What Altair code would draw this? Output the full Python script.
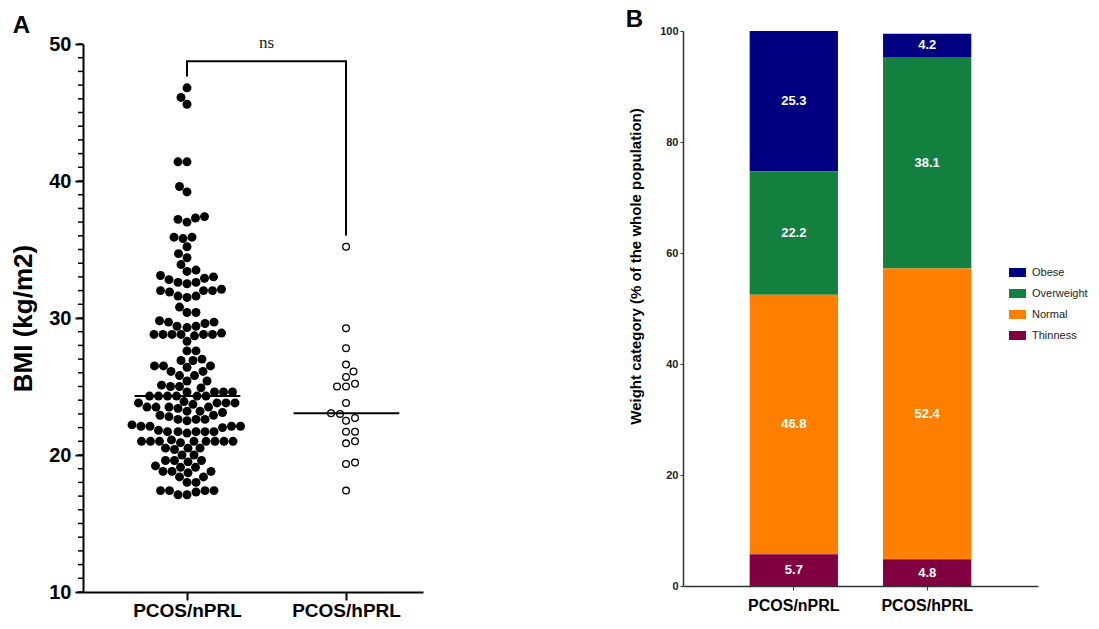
import altair as alt
import pandas as pd
import numpy as np

# ---------------- data ----------------
groups = ["PCOS/nPRL", "PCOS/hPRL"]

bmi_nprl = [
    46.8, 46.1, 45.6,
    41.4, 41.4, 39.6, 39.2,
    37.4, 37.3, 37.2, 37.0,
    35.9, 35.9, 35.8, 35.2, 34.7, 34.4, 33.9,
    33.5, 33.4, 33.1, 33.0, 32.9, 32.8,
    32.6, 32.6, 32.5,
    32.0, 32.0, 31.9, 32.0, 32.1,
    31.6, 31.6, 31.5,
    30.8, 30.4, 30.4,
    29.7, 29.7, 29.8, 29.6,
    29.4, 29.3, 29.4,
    28.8, 28.8, 28.8, 28.9, 28.8, 28.7, 28.8, 28.8,
    28.3, 27.6, 27.6,
    26.9, 27.0, 26.9,
    26.5, 26.5, 26.4, 26.5,
    26.1, 26.1, 25.8, 25.8, 25.4, 25.4,
    25.0, 25.0, 25.1, 24.9,
    24.6, 24.6, 24.6, 24.6,
    24.3, 24.3, 24.3, 24.3, 24.3, 24.3,
    23.8, 23.8, 23.9, 23.8, 23.7, 23.8,
    23.5, 23.5, 23.4, 23.5, 23.5,
    23.2, 23.2, 23.1,
    22.9, 22.9, 22.8,
    22.6, 22.6, 22.5, 22.6,
    22.1, 22.1, 22.2, 22.1, 22.0, 22.1,
    21.7, 21.7, 21.6, 21.7, 21.8, 21.7, 21.7,
    21.0, 21.0, 21.0, 21.1, 21.0, 20.9, 21.0, 21.0, 21.0, 21.0,
    20.5, 20.5, 20.4, 20.5,
    20.0, 20.0,
    19.6, 19.6, 19.5, 19.6,
    19.1, 19.1, 19.2,
    18.8, 18.8, 18.7, 18.8,
    18.4, 18.4,
    18.0, 18.0,
    17.4, 17.4, 17.3, 17.4, 17.4,
    17.1, 17.1,
]

bmi_hprl = [35.2, 29.25, 27.8, 26.6, 26.1, 25.7, 25.0, 25.0, 25.2, 23.8, 23.0,
            23.05, 22.7, 22.5, 21.7, 21.7, 21.0, 20.85, 19.45, 19.35, 17.4]

bmi_major_ticks = [10, 20, 30, 40, 50]
bmi_minor_ticks = list(range(10, 51))

bracket_x = [1, 1, 2, 2]
bracket_y = [47.7, 48.75, 48.75, 36.1]
ns_label = ["ns"]
ns_x = [1.5]
ns_y = [50.1]

categories = ["Obese", "Overweight", "Normal", "Thinness"]
cat_colors = ["#000080", "#138040", "#FF8000", "#800040"]
stack_rank = [3, 2, 1, 0]
pct_nprl = [25.3, 22.2, 46.8, 5.7]
pct_hprl = [4.2, 38.1, 52.4, 4.8]
pct_ticks = [0, 20, 40, 60, 80, 100]

# ---------------- layout constants ----------------
LEFT_W, LEFT_H = 340, 561
X_DOM = [0.346, 2.484]
Y_DOM = [10, 50]
Y_RANGE = [561, 13]
XPPU = LEFT_W / (X_DOM[1] - X_DOM[0])
YPPU = (Y_RANGE[0] - Y_RANGE[1]) / (Y_DOM[1] - Y_DOM[0])
MINOR_TICK_PX = 5


def swarm(values, diam, ypx):
    """Deterministic beeswarm: horizontal pixel offsets avoiding overlap."""
    vals = np.asarray(values, float)
    order = np.argsort(vals, kind="stable")
    placed = []
    offs = np.zeros(len(vals))
    for n, i in enumerate(order):
        y = vals[i] * ypx
        k = 0
        chosen = None
        while chosen is None:
            if k == 0:
                cands = [0.0]
            else:
                cands = [-k * 0.5, k * 0.5] if n % 2 else [k * 0.5, -k * 0.5]
            for c in cands:
                if all((c - px) ** 2 + (y - py) ** 2 >= diam ** 2 for px, py in placed):
                    chosen = c
                    break
            k += 1
        offs[i] = chosen
        placed.append((chosen, y))
    return offs


off_n = swarm(bmi_nprl, 9.0, YPPU)
off_h = swarm(bmi_hprl, 9.0, YPPU)

pts = pd.DataFrame({
    "group": [groups[0]] * len(bmi_nprl) + [groups[1]] * len(bmi_hprl),
    "gnum": [1] * len(bmi_nprl) + [2] * len(bmi_hprl),
    "bmi": bmi_nprl + bmi_hprl,
    "x": list(1 + off_n / XPPU) + list(2 + off_h / XPPU),
})

bracket_df = pd.DataFrame({"bx": bracket_x, "by": bracket_y, "o": list(range(len(bracket_x)))})
ns_df = pd.DataFrame({"t": ns_label, "x": ns_x, "y": ns_y})
minor_df = pd.DataFrame({"v": bmi_minor_ticks})

FONT = "Liberation Sans"

xscale = alt.Scale(domain=X_DOM, nice=False, zero=False)
yscale = alt.Scale(domain=Y_DOM, range=Y_RANGE, nice=False, zero=False)

x_axis = alt.Axis(values=[1, 2], labelExpr="datum.value == 1 ? 'PCOS/nPRL' : 'PCOS/hPRL'",
                  title=None, grid=False, tickSize=8, tickWidth=2, tickColor="black",
                  domainWidth=2, domainColor="black", labelFontSize=19, labelFontWeight="bold",
                  labelColor="black", labelPadding=1, labelFont=FONT)
y_axis = alt.Axis(values=bmi_major_ticks, orient="left", title="BMI (kg/m2)",
                  titleFontSize=26, titleFontWeight="bold", titleColor="black", titleFont=FONT,
                  titlePadding=12, grid=False, tickSize=8, tickWidth=2, tickColor="black",
                  domainWidth=2, domainColor="black", labelFontSize=20, labelFontWeight="bold",
                  labelColor="black", labelPadding=4, labelFont=FONT)

base = alt.Chart(pts)
filled = base.transform_filter("datum.gnum == 1").mark_circle(
    size=80, color="black", opacity=1
).encode(
    x=alt.X("x:Q", scale=xscale, axis=x_axis),
    y=alt.Y("bmi:Q", scale=yscale, axis=y_axis),
)
hollow = base.transform_filter("datum.gnum == 2").mark_point(
    filled=False, size=45, strokeWidth=1.3, color="black", opacity=1
).encode(
    x=alt.X("x:Q", scale=xscale),
    y=alt.Y("bmi:Q", scale=yscale),
)
medians = base.transform_aggregate(
    med="median(bmi)", groupby=["gnum"]
).transform_calculate(
    x1="datum.gnum - 0.33", x2="datum.gnum + 0.335"
).mark_rule(color="black", strokeWidth=2).encode(
    x=alt.X("x1:Q", scale=xscale), x2="x2:Q", y=alt.Y("med:Q", scale=yscale)
)
bracket = alt.Chart(bracket_df).mark_line(color="black", strokeWidth=2, strokeCap="square").encode(
    x=alt.X("bx:Q", scale=xscale), y=alt.Y("by:Q", scale=yscale), order="o:Q"
)
ns = alt.Chart(ns_df).mark_text(font="Liberation Serif", fontSize=17, color="#222").encode(
    x=alt.X("x:Q", scale=xscale), y=alt.Y("y:Q", scale=yscale), text="t:N"
)
# minor axis ticks (every 1 BMI unit), drawn just left of the y axis line
minor = alt.Chart(minor_df).transform_calculate(
    xa=f"{X_DOM[0]} - {MINOR_TICK_PX / XPPU}", xb=f"{X_DOM[0]}"
).mark_rule(color="black", strokeWidth=1.5).encode(
    x=alt.X("xa:Q", scale=xscale), x2="xb:Q", y=alt.Y("v:Q", scale=yscale)
)

left = alt.layer(filled, hollow, medians, bracket, ns, minor).properties(
    width=LEFT_W, height=LEFT_H,
    title=alt.TitleParams("A", anchor="start", frame="bounds", fontSize=24, fontWeight="bold",
                          font=FONT, color="black", dx=2, offset=-7),
)

# ---------------- right panel ----------------
bars_df = pd.DataFrame({
    "group": [groups[0]] * 4 + [groups[1]] * 4,
    "category": categories * 2,
    "rank": stack_rank * 2,
    "pct": pct_nprl + pct_hprl,
})

bx = alt.X("group:N", sort=groups, title=None,
           scale=alt.Scale(paddingInner=0.338, paddingOuter=0.5),
           axis=alt.Axis(labelAngle=0, labelFontSize=16, labelFontWeight="bold", labelColor="black",
                         labelFont=FONT, tickSize=4, tickColor="#333", domainColor="#333",
                         domainWidth=1.5, labelPadding=7))
by_scale = alt.Scale(domain=[0, 100], nice=False)

bars = alt.Chart(bars_df).mark_bar().encode(
    x=bx,
    y=alt.Y("pct:Q", stack="zero", scale=by_scale,
            axis=alt.Axis(values=pct_ticks, grid=False, tickSize=3,
                          tickColor="#333", domainColor="#333", domainWidth=1.5,
                          labelFontSize=11, labelFontWeight="bold", labelColor="#222",
                          labelPadding=2, labelFont=FONT,
                          title="Weight category (% of the whole population)",
                          titleFontSize=15, titleFontWeight="bold", titleColor="black",
                          titleFont=FONT, titlePadding=16, titleY=235)),
    color=alt.Color("category:N", scale=alt.Scale(domain=categories, range=cat_colors),
                    legend=alt.Legend(orient="none", legendX=926, legendY=233, title=None,
                                      symbolType="M-1,-0.53H1V0.53H-1Z", symbolSize=289,
                                      symbolStrokeWidth=0, labelFontSize=11, labelFont=FONT,
                                      labelColor="#222", labelOffset=6, rowPadding=7)),
    order=alt.Order("rank:Q", sort="ascending"),
)

labels = alt.Chart(bars_df).transform_stack(
    stack="pct", as_=["y0", "y1"], groupby=["group"], sort=[alt.SortField("rank", order="ascending")]
).transform_calculate(
    mid="(datum.y0 + datum.y1) / 2", lab="format(datum.pct, '.1f')"
).mark_text(color="white", fontWeight="bold", fontSize=13, font=FONT).encode(
    x=alt.X("group:N", sort=groups),
    y=alt.Y("mid:Q", scale=by_scale),
    text="lab:N",
)

right = alt.layer(bars, labels).properties(
    width=355, height=555,
    title=alt.TitleParams("B", anchor="start", frame="bounds", fontSize=24, fontWeight="bold",
                          font=FONT, color="black", dx=-3, offset=-7),
)

chart = alt.hconcat(left, right, spacing=202).properties(
    padding={"left": 2, "top": 0, "right": 0, "bottom": 0}
).configure(font=FONT).configure_view(stroke=None)

chart.save("out.html", embed_options={"renderer": "svg", "actions": False})
